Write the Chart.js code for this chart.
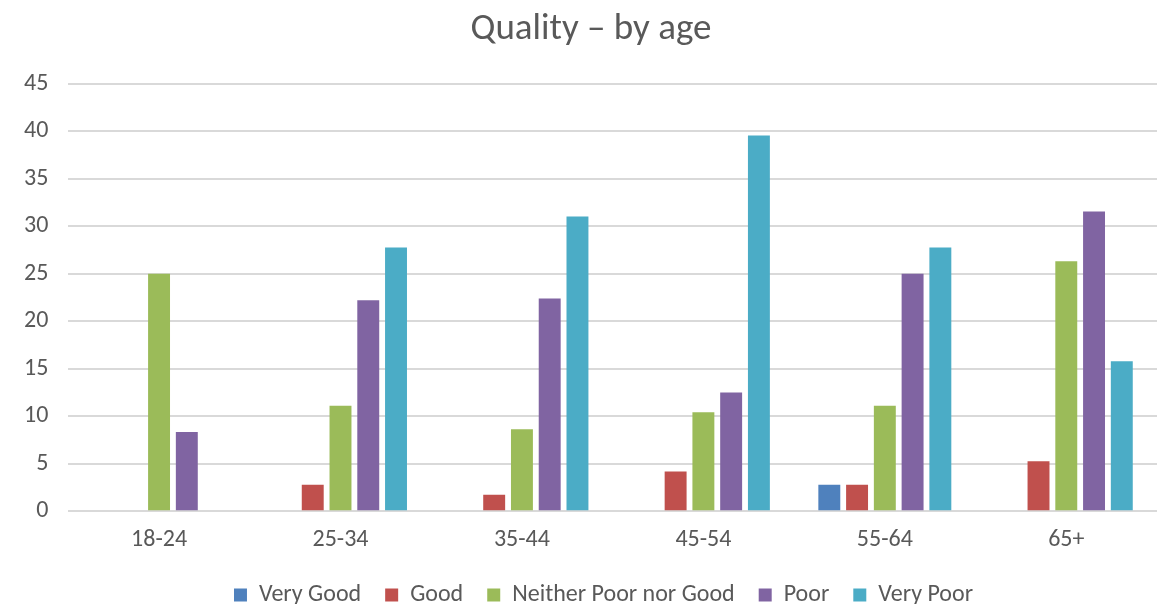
<!DOCTYPE html>
<html>
<head>
<meta charset="utf-8">
<script src="https://cdn.jsdelivr.net/npm/chart.js@4/dist/chart.umd.min.js"></script>
<style>
  html, body { margin: 0; padding: 0; background: #ffffff; }
  #wrap { width: 1157px; height: 613px; position: relative; }
</style>
</head>
<body>
<div id="wrap"><canvas id="c" width="1157" height="613"></canvas></div>
<script>
const categories = ["18-24", "25-34", "35-44", "45-54", "55-64", "65+"];
const seriesNames = ["Very Good", "Good", "Neither Poor nor Good", "Poor", "Very Poor"];
const veryGood = [0, 0, 0, 0, 2.78, 0];
const good = [0, 2.78, 1.72, 4.17, 2.78, 5.26];
const neither = [25, 11.11, 8.62, 10.42, 11.11, 26.32];
const poor = [8.33, 22.22, 22.41, 12.5, 25, 31.58];
const veryPoor = [0, 27.78, 31.03, 39.58, 27.78, 15.79];
const yTicks = [0, 5, 10, 15, 20, 25, 30, 35, 40, 45];
const titleText = "Quality \u2013 by age";

const colors = ["#4F81BD", "#C0504D", "#9BBB59", "#8064A2", "#4BACC6"];
const seriesValues = [veryGood, good, neither, poor, veryPoor];
const FONT = "Carlito, Calibri, Lato, sans-serif";

function patchLegend(chart) {
  const lg = chart.legend;
  if (lg && !lg._patched) {
    lg._patched = true;
    const origDraw = lg.draw;
    lg.draw = function () {
      const c = this.ctx;
      c.save();
      c.translate(23, -9);
      origDraw.apply(this, arguments);
      c.restore();
    };
  }
}

const titlePlugin = {
  id: 'customTitle',
  beforeUpdate(chart) { patchLegend(chart); },
  beforeLayout(chart) { patchLegend(chart); },
  afterDraw(chart) {
    const ctx = chart.ctx;
    ctx.save();
    ctx.font = "37px " + FONT;
    ctx.fillStyle = "#595959";
    ctx.textAlign = "center";
    ctx.textBaseline = "middle";
    ctx.fillText(titleText, 591, 30);
    ctx.restore();
  }
};

new Chart(document.getElementById('c'), {
  type: 'bar',
  data: {
    labels: categories,
    datasets: seriesNames.map((n, i) => ({
      label: n,
      data: seriesValues[i],
      backgroundColor: colors[i],
      borderWidth: 0,
      categoryPercentage: 0.765,
      barPercentage: 0.79
    }))
  },
  options: {
    responsive: false,
    animation: false,
    layout: { padding: { top: 84, left: 4, right: 0, bottom: 0 } },
    plugins: {
      title: { display: false },
      tooltip: { enabled: false },
      legend: {
        position: 'bottom',
        maxHeight: 45,
        labels: {
          font: { family: FONT, size: 24 },
          color: "#595959",
          boxWidth: 13,
          boxHeight: 13,
          padding: 24
        }
      }
    },
    scales: {
      x: {
        grid: { display: false, drawTicks: false },
        border: { display: false },
        ticks: { font: { family: FONT, size: 24 }, color: "#595959", padding: 14 }
      },
      y: {
        min: 0,
        max: 45,
        afterBuildTicks: (axis) => { axis.ticks = yTicks.map(v => ({ value: v })); },
        grid: { color: "#D9D9D9", lineWidth: 2, drawTicks: false },
        border: { display: false },
        ticks: { font: { family: FONT, size: 24 }, color: "#595959", padding: 20 }
      }
    }
  },
  plugins: [titlePlugin]
});
</script>
</body>
</html>
